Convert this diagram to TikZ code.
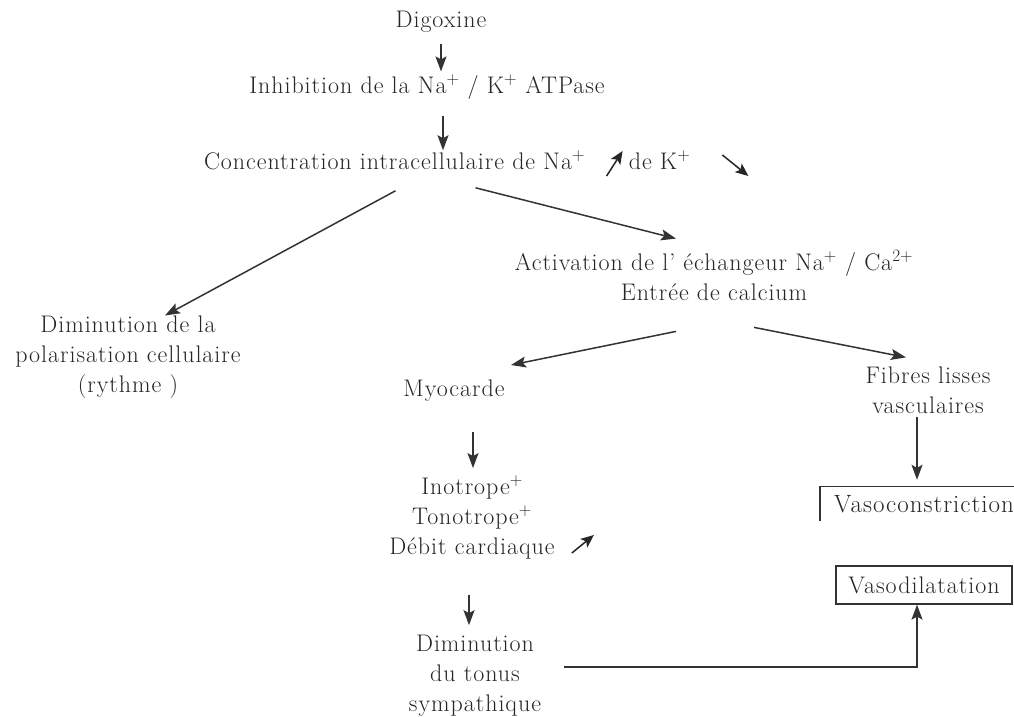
\documentclass[tikz,border=0pt]{standalone}
\usepackage{fontspec}
\setmainfont{Latin Modern Roman}[LetterSpace=4]
\usetikzlibrary{arrows.meta,calc}
\begin{document}
\begin{tikzpicture}[x=1pt,y=-1pt,
  lbl/.style={font=\fontsize{24}{30}\selectfont, text=black!85, align=center, inner sep=0pt},
  arr/.style={draw=black!80, line width=1.5pt, -{Stealth[length=15pt,width=11pt,inset=3pt]}},
  tiny/.style={draw=black!85, line width=1.5pt, -{Stealth[length=13pt,width=11pt,inset=3pt]}},
  boxline/.style={draw=black!80, line width=1.3pt}]
\useasboundingbox (0,0) rectangle (1014,717);
\fill[white] (0,0) rectangle (1014,717);

\node[lbl] (dig) at (441,22) {Digoxine};
\node[lbl] (inh) at (427,87) {Inhibition de la Na$^{+}$ / K$^{+}$ ATPase};
\node[lbl] (conc) at (394.5,160) {Concentration intracellulaire de Na$^{+}$};
\node[lbl] (deK) at (659.5,160) {de K$^{+}$};
\node[lbl] (dimpol) at (128,357) {Diminution de la\\polarisation cellulaire\\(rythme )};
\node[lbl] (act) at (714,276) {Activation de l' échangeur Na$^{+}$ / Ca$^{2+}$\\Entrée de calcium};
\node[lbl] (myo) at (454,391) {Myocarde};
\node[lbl] (fib) at (928,390) {Fibres lisses\\vasculaires};
\node[lbl, anchor=west, inner xsep=14pt, minimum height=34pt, font=\fontsize{25}{30}\selectfont] (vc) at (820,504) {Vasoconstriction};
\node[lbl] (ino) at (472,517) {Inotrope$^{+}$\\Tonotrope$^{+}$\\Débit cardiaque};
\node[lbl, draw=black!80, line width=1.3pt, minimum width=176pt, minimum height=38pt] (vd) at (924,585) {Vasodilatation};
\node[lbl] (dim) at (475,676) {Diminution\\du tonus\\sympathique};

% vasoconstriction open box
\draw[boxline] ($(vc.north west)+(300,0)$) -- (vc.north west) -- (vc.south west);

% connectors
\draw[arr, shorten <=11pt, shorten >=3pt] (dig.south) -- (dig.south |- inh.north);
\draw[arr] ($(inh.south)+(16,16)$) -- ($(inh.south |- conc.north)+(16,0)$);
\draw[arr] ($(conc.south)+(1,21)$) -- ($(dimpol.north)+(37,0)$);
\draw[arr] ($(conc.south)+(81,18)$) -- ($(act.north)+(-38,-12)$);
\draw[arr] ($(act.south)+(-38,30)$) -- ($(myo.north)+(57,-15)$);
\draw[arr] ($(act.south)+(40,26)$) -- ($(fib.north)+(-22,-9)$);
\draw[arr] ($(fib.south)+(-11,3)$) -- ($(fib.south |- vc.north)+(-11,-7)$);
\draw[arr] ($(myo.south)+(19,30)$) -- ($(myo.south |- ino.north)+(19,-7)$);
\draw[arr] ($(ino.south)+(-3,36)$) -- ($(ino.south |- dim.north)+(-3,-10)$);
\draw[arr] ($(dim.east)+(23,-9)$) -| ($(vd.south)+(-7,0)$);

% small up/down arrows
\draw[tiny] ($(deK.west)+(-22,16)$) -- ($(deK.west)+(-6,-9)$);
\draw[tiny] ($(deK.east)+(32,-5)$) -- ($(deK.east)+(58,16)$);
\draw[tiny] ($(ino.east)+(17,36)$) -- ($(ino.east)+(39,18)$);
\end{tikzpicture}
\end{document}
